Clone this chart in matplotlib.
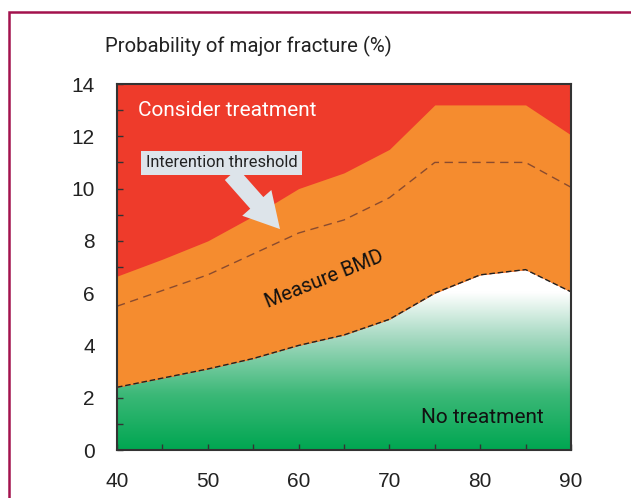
import numpy as np
import matplotlib.pyplot as plt
from matplotlib.colors import LinearSegmentedColormap
from matplotlib.patches import Rectangle

# Data
ages = np.array([40, 45, 50, 55, 60, 65, 70, 75, 80, 85, 90])
upper = np.array([6.65, 7.3, 8.0, 8.95, 10.0, 10.6, 11.5, 13.2, 13.2, 13.2, 12.05])
threshold = np.array([5.5, 6.1, 6.7, 7.5, 8.3, 8.8, 9.65, 11.0, 11.0, 11.0, 10.05])
lower = np.array([2.4, 2.75, 3.1, 3.5, 4.0, 4.4, 5.0, 6.0, 6.7, 6.9, 6.05])

xticks = [40, 50, 60, 70, 80, 90]
yticks = [0, 2, 4, 6, 8, 10, 12, 14]

red = '#ee3b2b'
orange = '#f58c2f'
callout = '#dde4ea'
narrow = ['Roboto', 'DejaVu Sans']

plt.rcParams['font.family'] = ['Liberation Sans', 'DejaVu Sans']

fig = plt.figure(figsize=(6.31, 4.98), dpi=100)
ax = fig.add_axes([117/631, 48/498, 454/631, 366/498])

# green to white gradient for the "no treatment" zone
cmap = LinearSegmentedColormap.from_list(
    'nt', [(0, '#00a651'), (0.3, '#3bb877'), (0.62, '#a8dac3'), (0.86, '#ffffff'), (1, '#ffffff')])
grad = np.linspace(0, 1, 256).reshape(-1, 1)
ax.imshow(grad, extent=[40, 90, 0, 7.0], origin='lower', cmap=cmap, aspect='auto', zorder=0)
ax.fill_between(ages, 7.0, 14, color='white', lw=0, zorder=0.5)

ax.fill_between(ages, lower, 14, color=red, lw=0, zorder=1)
ax.fill_between(ages, lower, upper, color=orange, lw=0, zorder=2)

ax.plot(ages, threshold, color='#8a4b2e', lw=1, ls=(0, (6, 4)), zorder=3)
ax.plot(ages, lower, color='#222222', lw=1, ls=(0, (4, 2)), zorder=3)
ax.plot([90, 90], [lower[-1], threshold[-1]], color='#444444', lw=1.2, ls=(0, (4, 2)), zorder=3)

ax.set_xlim(40, 90)
ax.set_ylim(0, 14)
ax.set_xticks(xticks)
ax.set_yticks(yticks)
ax.set_xticks(np.arange(40, 91, 5), minor=True)
ax.set_yticks(np.arange(0, 15, 1), minor=True)
ax.tick_params(which='both', direction='in', color='#333333', width=1)
ax.tick_params(which='major', length=4, labelsize=15, labelcolor='#222222')
ax.tick_params(which='minor', length=4)
ax.tick_params(axis='x', pad=16)
ax.tick_params(axis='y', pad=16)
for s in ax.spines.values():
    s.set_color('#333333')
    s.set_linewidth(1.5)
    s.set_zorder(5)

ax.text(42.3, 13.0, 'Consider treatment', color='white', fontsize=15, family=narrow,
        va='center', ha='left', zorder=4)
ax.text(62.8, 6.52, 'Measure BMD', color='#111111', fontsize=14.5, family=narrow,
        rotation=22, va='center', ha='center', zorder=4)
ax.text(80.2, 1.26, 'No treatment', color='#111111', fontsize=15, family=narrow,
        va='center', ha='center', zorder=4)

ax.annotate('', xy=(57.95, 8.45), xytext=(52.6, 10.55),
            arrowprops=dict(arrowstyle='simple,head_length=1.8,head_width=2.0,tail_width=0.9',
                            fc=callout, ec='none', mutation_scale=14, shrinkA=0, shrinkB=0),
            zorder=4)
ax.text(51.5, 10.98, 'Interention threshold', color='#222222', fontsize=11.8, family=narrow,
        va='center', ha='center', zorder=4,
        bbox=dict(boxstyle='square,pad=0.3', fc=callout, ec='none'))

fig.text(105/631, 1 - 46/498, 'Probability of major fracture (%)', fontsize=14.7,
         family=narrow, color='#222222', va='center', ha='left')

# frame around the figure
fig.patches.append(Rectangle((9/631, -0.1), 1.2, 1.1 - 12.5/498, transform=fig.transFigure,
                             fill=False, ec='#a3124d', lw=1.8))

fig.savefig('out.png', dpi=100)
